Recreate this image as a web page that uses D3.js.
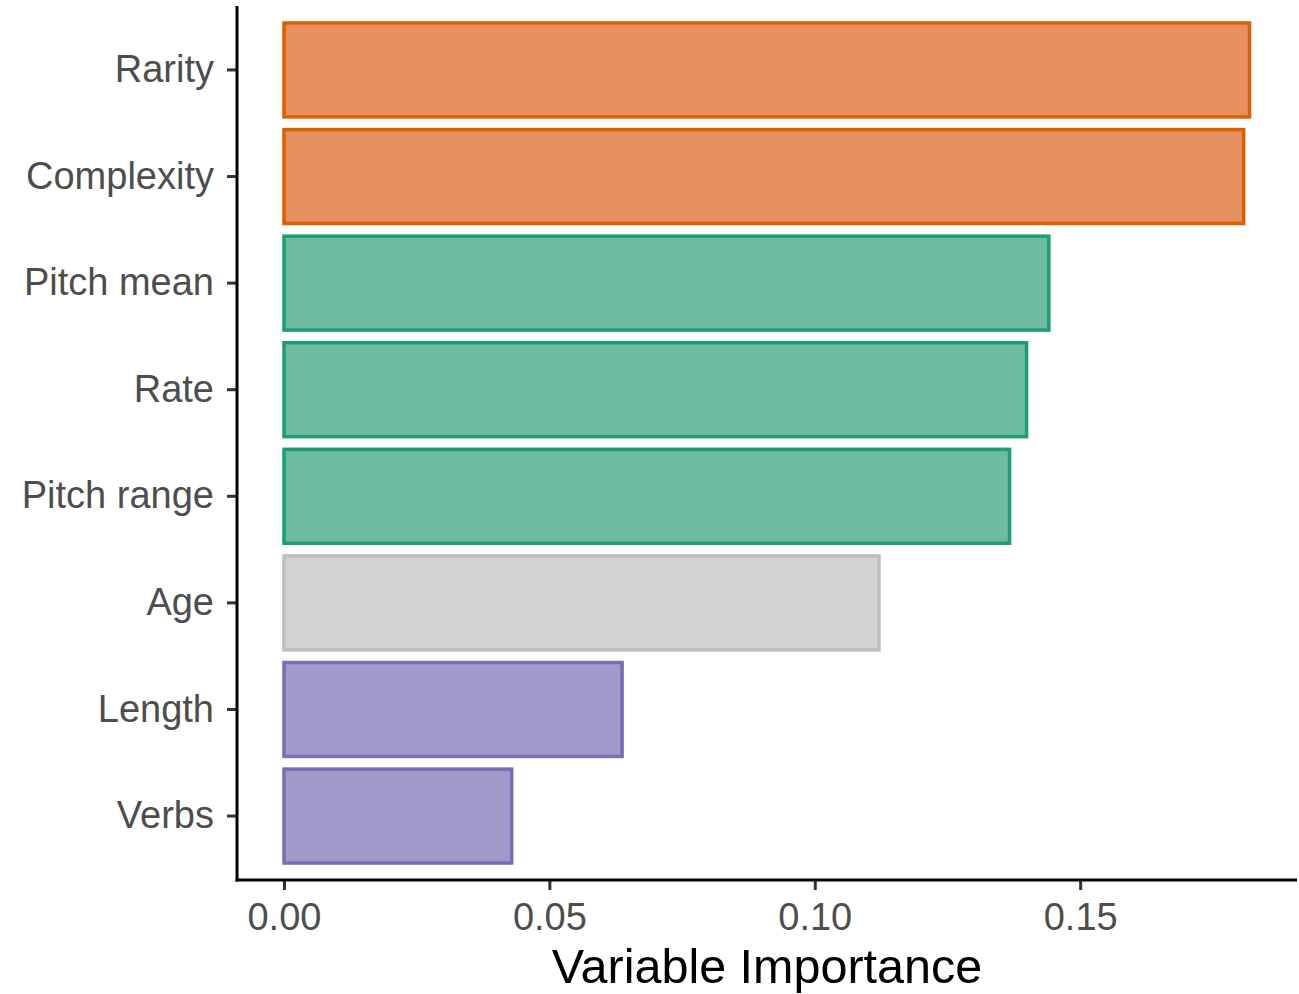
<!DOCTYPE html>
<html><head><meta charset="utf-8">
<script src="https://cdn.jsdelivr.net/npm/d3@7"></script>
<style>body{margin:0;background:#fff}svg{display:block}</style>
</head><body>
<svg id="c" width="1299" height="994"></svg>
<script>
const categories = ["Rarity","Complexity","Pitch mean","Rate","Pitch range","Age","Length","Verbs"];
const values = [0.1819,0.1808,0.1441,0.1399,0.1367,0.1121,0.0637,0.0429];
const groups = ["prosody2","prosody2","acoustic","acoustic","acoustic","speaker","lexical","lexical"];
const xTicks = [0,0.05,0.10,0.15];
const fillColors = {prosody2:"#E4915F",acoustic:"#6FBBA0",speaker:"#D3D3D3",lexical:"#A29ACB"};
const strokeColors = {prosody2:"#D95F02",acoustic:"#1B9E77",speaker:"#BEBEBE",lexical:"#7570B3"};

(function(){
const svg = d3.select("#c");
const pLeft = 237, pRight = 1297, pTop = 6, pBottom = 880;
const x = d3.scaleLinear().domain([-0.00885, 0.19085]).range([pLeft, pRight]);
const y = d3.scaleBand().domain(categories).range([pTop, pBottom]).paddingInner(0.1).paddingOuter(0.15);

svg.append("g").selectAll("rect").data(categories).join("rect")
  .attr("x", x(0))
  .attr("y", d => y(d) + 1)
  .attr("width", (d,i) => x(values[i]) - x(0))
  .attr("height", y.bandwidth() - 2)
  .attr("fill", (d,i) => fillColors[groups[i]])
  .attr("stroke", (d,i) => strokeColors[groups[i]])
  .attr("stroke-width", 3.5);

const font = "'Liberation Sans', Arial, Helvetica, sans-serif";

const yAxis = svg.append("g").attr("transform", `translate(${pLeft},0)`)
  .call(d3.axisLeft(y).tickSize(10).tickPadding(13));
yAxis.select(".domain").remove();
yAxis.selectAll(".tick line").attr("stroke", "#333").attr("stroke-width", 3);
yAxis.selectAll(".tick text").attr("fill", "#4D4D4D").style("font-family", font).style("font-size", "38px");

const xAxis = svg.append("g").attr("transform", `translate(0,${pBottom})`)
  .call(d3.axisBottom(x).tickValues(xTicks).tickFormat(d3.format(".2f")).tickSize(10).tickPadding(13));
xAxis.select(".domain").remove();
xAxis.selectAll(".tick line").attr("stroke", "#333").attr("stroke-width", 3);
xAxis.selectAll(".tick text").attr("fill", "#4D4D4D").style("font-family", font).style("font-size", "38px");

svg.append("line").attr("x1", pLeft).attr("x2", pLeft).attr("y1", pTop).attr("y2", pBottom + 1.5)
  .attr("stroke", "#000").attr("stroke-width", 3);
svg.append("line").attr("x1", pLeft - 1.5).attr("x2", pRight).attr("y1", pBottom).attr("y2", pBottom)
  .attr("stroke", "#000").attr("stroke-width", 3);

svg.append("text").attr("x", (pLeft + pRight) / 2).attr("y", 983)
  .attr("text-anchor", "middle").attr("fill", "#000")
  .style("font-family", font).style("font-size", "48.5px")
  .text("Variable Importance");
})();
</script>
</body></html>
